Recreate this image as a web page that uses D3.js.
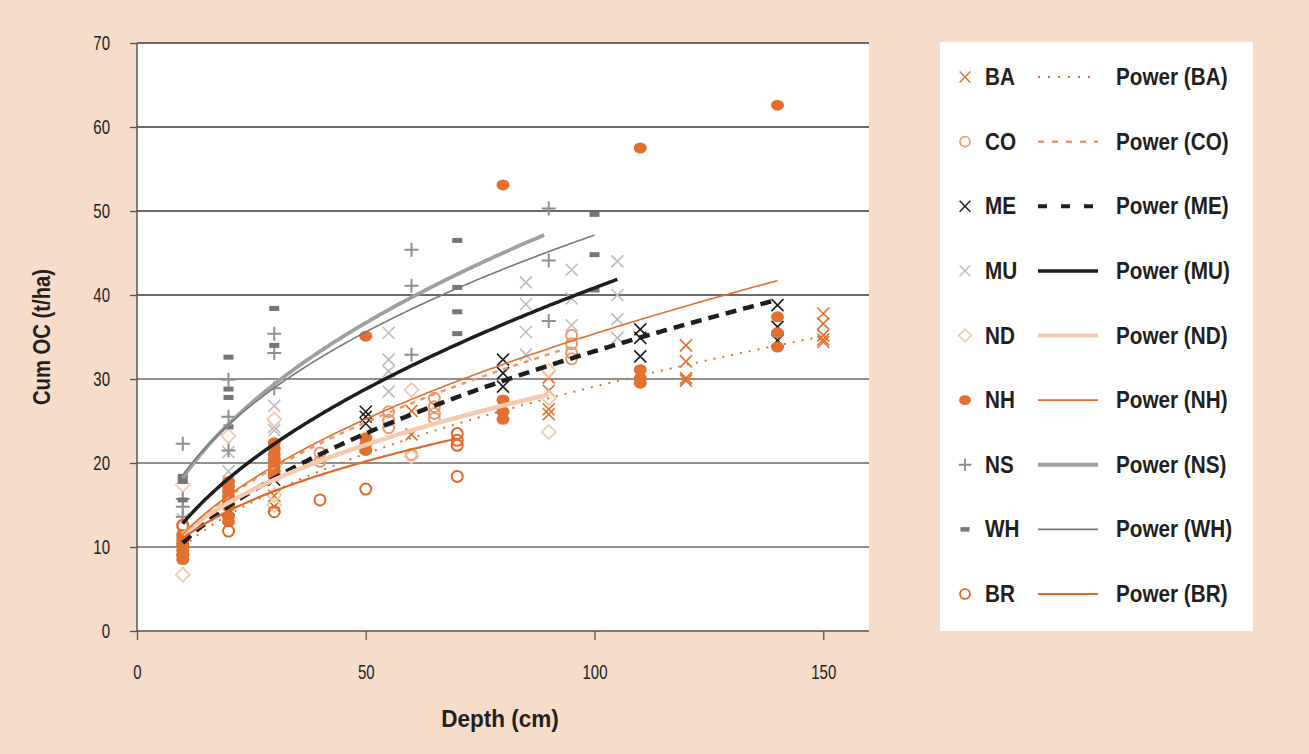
<!DOCTYPE html>
<html><head><meta charset="utf-8">
<script src="https://cdn.jsdelivr.net/npm/d3@7"></script>
<style>
html,body{margin:0;padding:0;background:#f7dcc9;}
svg{display:block;}
text{font-family:"Liberation Sans",Arial,sans-serif;fill:#231f20;}
</style></head><body>
<svg id="c" width="1309" height="754"></svg>
<script>
// ---- data (depth cm, cumulative OC t/ha) ----
const BA = [[10,9.6],[20,14.3],[30,16.1],[30,14.8],[60,26.2],[60,23.4],[90,30.2],[90,28.6],[90,26.4],[90,25.8],[120,34.0],[120,32.1],[120,30.1],[120,29.8],[150,37.8],[150,36.6],[150,35.2],[150,34.7],[150,34.4]];
const CO = [[10,12.4],[10,11.2],[30,20.5],[40,21.2],[40,20.2],[55,26.1],[55,25.1],[55,24.2],[60,21.0],[65,27.7],[65,26.7],[65,25.9],[65,25.3],[95,35.2],[95,34.2],[95,33.1],[95,32.4]];
const ME = [[10,9.8],[20,14.5],[30,18.0],[50,26.1],[50,25.5],[50,24.7],[80,32.3],[80,30.7],[80,29.1],[110,35.9],[110,34.9],[110,32.7],[140,38.8],[140,36.2],[140,34.6]];
const MU = [[10,13.3],[20,21.3],[20,19.0],[30,26.8],[30,24.3],[30,23.9],[30,21.0],[55,35.5],[55,32.3],[55,30.9],[55,28.5],[85,41.5],[85,38.9],[85,35.6],[85,32.9],[95,43.0],[95,39.6],[95,36.4],[105,44.0],[105,40.0],[105,37.1],[105,34.9]];
const ND = [[10,17.4],[10,6.7],[20,23.2],[30,25.2],[30,16.2],[30,15.0],[60,28.7],[60,20.8],[90,31.0],[90,27.7],[90,23.7]];
const NH = [[10,11.5],[10,10.8],[10,10.2],[10,9.6],[10,9.0],[10,8.5],[20,17.8],[20,17.2],[20,16.6],[20,16.0],[20,15.4],[20,14.8],[20,13.6],[20,13.0],[30,22.4],[30,21.7],[30,21.0],[30,20.3],[30,19.6],[30,19.0],[30,18.4],[50,35.1],[50,23.0],[50,22.2],[50,21.5],[80,53.1],[80,27.5],[80,26.1],[80,25.2],[110,57.5],[110,31.1],[110,30.1],[110,29.5],[140,62.6],[140,37.4],[140,35.5],[140,33.8]];
const NS = [[10,22.3],[10,15.7],[10,14.8],[10,13.6],[20,29.9],[20,25.5],[20,21.5],[30,35.4],[30,33.1],[30,28.9],[60,45.4],[60,41.1],[60,32.9],[90,50.3],[90,44.1],[90,36.9]];
const WH = [[10,18.4],[10,17.8],[10,15.6],[20,32.6],[20,28.8],[20,27.8],[20,24.3],[30,38.4],[30,34.0],[70,46.5],[70,40.9],[70,38.0],[70,35.4],[100,49.6],[100,44.8],[100,40.6]];
const BR = [[10,12.6],[20,11.9],[30,14.2],[40,15.6],[50,16.9],[70,23.5],[70,22.7],[70,22.1],[70,18.4]];

// power trendline coefficients y = a * x^b, over [xmin, xmax]
const seriesNames = ["BA","CO","ME","MU","ND","NH","NS","WH","BR"];
const powerA = [3.45, 3.80, 3.30, 4.01, 4.51, 3.74, 6.69, 7.30, 4.62];
const powerB = [0.463,0.480,0.502,0.504,0.407,0.488,0.435,0.405,0.377];
const powerMin = [10,10,10,10,10,10,10,10,10];
const powerMax = [150,95,140,105,90,140,89,100,70];

const xTicks = [0,50,100,150];
const yTicks = [0,10,20,30,40,50,60,70];

// ---- styles ----
const seriesData = [BA,CO,ME,MU,ND,NH,NS,WH,BR];
const markerType = ["x","o","x","x","d","dot","plus","minus","o"];
const markerColor = ["#e2712d","#e99a72","#1e1e1e","#bdbdbd","#f5c9ad","#e2702f","#8f8f8f","#767676","#e2692a"];
const lineColor = ["#e2712d","#e99a72","#1e1e1e","#1e1e1e","#f5cbb0","#e2702f","#a0a0a0","#7a7a7a","#e2692a"];
const lineWidth = [2,2.5,4.5,3.5,4.5,1.6,3.8,1.6,2.2];
const lineDash = ["2,7","5,6","11,7",null,null,null,null,null,null];
const legendDash = ["2,8","6,8","9,14",null,null,null,null,null,null];

const TICK_SX = 0.75, BOLD_SX = 0.9;

const svg = d3.select("#c");
const x = d3.scaleLinear().domain([0,160]).range([137,869]);
const y = d3.scaleLinear().domain([0,70]).range([631,43]);

svg.append("rect").attr("x",137).attr("y",43).attr("width",732).attr("height",588).attr("fill","#fff");

// gridlines
svg.append("g").selectAll("line").data(yTicks.filter(d=>d>0)).join("line")
  .attr("x1",137).attr("x2",869).attr("y1",d=>y(d)).attr("y2",d=>y(d))
  .attr("stroke",d=>d>=40?"#3a3a3a":"#6a6a6a").attr("stroke-width",1.3);

// axes
const yAxis = svg.append("g").attr("transform","translate(137,0)")
  .call(d3.axisLeft(y).tickValues(yTicks).tickSize(7).tickPadding(20).tickFormat(d3.format("d")));
const xAxis = svg.append("g").attr("transform","translate(0,631)")
  .call(d3.axisBottom(x).tickValues(xTicks).tickSize(9).tickPadding(25).tickFormat(d3.format("d")));
[yAxis,xAxis].forEach(a=>{
  a.select(".domain").attr("stroke","#555").attr("stroke-width",1.5);
  a.selectAll(".tick line").attr("stroke","#555").attr("stroke-width",1.3);
  a.selectAll("text").attr("font-size",20).attr("fill","#231f20").attr("font-family","'Liberation Sans',Arial,sans-serif");
});
yAxis.selectAll(".tick text").each(function(){
  const t = d3.select(this); t.attr("x", +t.attr("x")/TICK_SX).attr("transform",`scale(${TICK_SX},1)`);
});
xAxis.selectAll(".tick text").attr("transform",`scale(${TICK_SX},1)`);
xAxis.select(".domain").attr("d","M137,0H869");
yAxis.select(".domain").attr("d","M0,43V631");

function boldText(px, py, str, anchor, rot, sx){
  return svg.append("text")
    .attr("transform",`translate(${px},${py})${rot?" rotate(-90)":""} scale(${sx||BOLD_SX},1)`)
    .attr("text-anchor",anchor).attr("font-size",23).attr("font-weight","bold").text(str);
}
// axis titles
boldText(500, 727, "Depth (cm)", "middle", false, 0.98);
boldText(50, 337, "Cum OC (t/ha)", "middle", true, 0.88);

function drawMarker(g, type, color){
  if(type==="x") g.append("path").attr("d","M-6,-6L6,6M-6,6L6,-6").attr("stroke",color).attr("stroke-width",1.6).attr("fill","none");
  else if(type==="o") g.append("circle").attr("r",5.5).attr("fill","none").attr("stroke",color).attr("stroke-width",2);
  else if(type==="d") g.append("path").attr("d","M0,-7L7,0L0,7L-7,0Z").attr("fill","none").attr("stroke",color).attr("stroke-width",1.8);
  else if(type==="dot") g.append("ellipse").attr("rx",6.5).attr("ry",5.5).attr("fill",color);
  else if(type==="plus") g.append("path").attr("d","M-7,0H7M0,-7V7").attr("stroke",color).attr("stroke-width",2);
  else if(type==="minus") g.append("rect").attr("x",-5).attr("y",-2.5).attr("width",10).attr("height",5).attr("fill",color);
}

// markers
const plot = svg.append("g");
seriesData.forEach((data,i)=>{
  const g = plot.append("g");
  data.forEach(p=>{
    const m = g.append("g").attr("transform",`translate(${x(p[0])},${y(p[1])})`);
    drawMarker(m, markerType[i], markerColor[i]);
  });
});

// power trend lines
const lineGen = d3.line().x(d=>x(d[0])).y(d=>y(d[1]));
seriesNames.forEach((n,i)=>{
  const pts = d3.range(powerMin[i], powerMax[i]+0.001, 0.5).map(t=>[t, powerA[i]*Math.pow(t,powerB[i])]);
  const p = plot.append("path").attr("d",lineGen(pts)).attr("fill","none")
    .attr("stroke",lineColor[i]).attr("stroke-width",lineWidth[i]);
  if(lineDash[i]) p.attr("stroke-dasharray",lineDash[i]);
});

// legend
svg.append("rect").attr("x",940).attr("y",42).attr("width",313).attr("height",589).attr("fill","#fff");
const ly = d3.scaleLinear().domain([0,8]).range([77,594]);
seriesNames.forEach((n,i)=>{
  const yy = ly(i);
  const m = svg.append("g").attr("transform",`translate(965,${yy}) scale(0.9)`);
  drawMarker(m, markerType[i], markerColor[i]);
  boldText(985, yy+8, n, "start", false);
  const l = svg.append("line").attr("x1",1038).attr("x2",1098).attr("y1",yy).attr("y2",yy)
    .attr("stroke",lineColor[i]).attr("stroke-width",Math.min(lineWidth[i],4));
  if(legendDash[i]) l.attr("stroke-dasharray",legendDash[i]);
  boldText(1116, yy+8, `Power (${n})`, "start", false);
});
</script>
</body></html>
